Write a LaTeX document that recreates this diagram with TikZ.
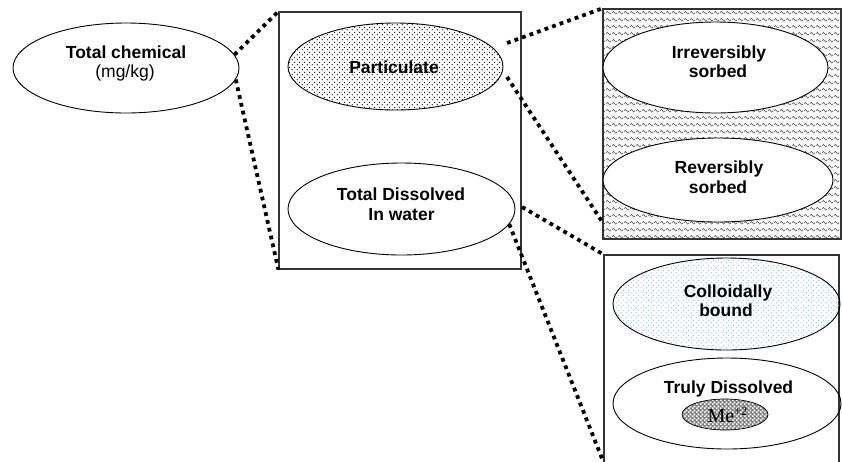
\documentclass[tikz,border=0pt]{standalone}
\usepackage{fontspec}
\setmainfont{Liberation Sans}
\newfontfamily\timesfont{Liberation Serif}
\usetikzlibrary{shapes.geometric,patterns.meta}

\definecolor{cblue}{RGB}{140,190,240}

\tikzdeclarepattern{
  name=pdots, type=uncolored,
  bounding box={(0pt,0pt) and (5.4pt,5.4pt)},
  tile size={(5.4pt,5.4pt)},
  code={\fill (1.35pt,1.35pt) circle (0.65pt); \fill (4.05pt,4.05pt) circle (0.65pt);}
}
\tikzdeclarepattern{
  name=cdots, type=uncolored,
  bounding box={(0pt,0pt) and (5.4pt,5.4pt)},
  tile size={(5.4pt,5.4pt)},
  code={\fill (1.35pt,1.35pt) circle (0.65pt); \fill (4.05pt,4.05pt) circle (0.65pt);}
}
\tikzdeclarepattern{
  name=zz, type=uncolored,
  bounding box={(0pt,0pt) and (6pt,7.2pt)},
  tile size={(6pt,7.2pt)},
  code={\draw[line width=0.7pt] (0pt,2.5pt) -- (1.5pt,4pt) -- (4.5pt,1pt) -- (6pt,2.5pt);}
}
\tikzdeclarepattern{
  name=checks, type=uncolored,
  bounding box={(0pt,0pt) and (3.6pt,3.6pt)},
  tile size={(3.6pt,3.6pt)},
  code={\fill (0pt,0pt) rectangle (1.8pt,1.8pt); \fill (1.8pt,1.8pt) rectangle (3.6pt,3.6pt);}
}

\begin{document}
\begin{tikzpicture}[x=1pt,y=-1pt,
  box/.style={draw=black!80, line width=1.2pt, rectangle, inner sep=0pt},
  oval/.style={draw, ellipse, line width=0.9pt, inner sep=0pt},
  lbl/.style={inner sep=0pt, anchor=base, font=\fontsize{17.5}{20}\selectfont\bfseries},
  lblr/.style={inner sep=0pt, anchor=base, font=\fontsize{17.5}{20}\selectfont},
  dotline/.style={line width=3.8pt, dash pattern=on 3.8pt off 4.2pt},
]
\useasboundingbox (0,0) rectangle (842,461);
\clip (0,0) rectangle (842,461);

% boxes
\node[box, minimum width=242pt, minimum height=257pt] (mid) at (400,140.5) {};
\node[box, minimum width=238pt, minimum height=230pt, pattern=zz, pattern color=black!65] (rt) at (722,124) {};
\node[box, minimum width=235pt, minimum height=230pt] (br) at (721.5,370) {};

% ellipses
\node[oval, fill=white, minimum width=226pt, minimum height=90pt] (tc) at (126,68) {};
\node[oval, pattern=pdots, minimum width=215pt, minimum height=87pt] (p) at (395.5,66.5) {};
\node[oval, fill=white, minimum width=227pt, minimum height=92pt] (td) at (401.5,209) {};
\node[oval, fill=white, minimum width=225pt, minimum height=91pt] (irr) at (715.5,67.5) {};
\node[oval, fill=white, minimum width=230pt, minimum height=84pt] (rev) at (718,180) {};
\node[oval, pattern=cdots, pattern color=cblue, minimum width=227pt, minimum height=92pt] (cb) at (726.5,304) {};
\node[oval, minimum width=228pt, minimum height=91pt] (trd) at (727,403.5) {};
\node[oval, line width=0.7pt, preaction={fill=black!50}, pattern=checks, pattern color=white, minimum width=86pt, minimum height=31pt] (me) at (725,414.5) {};

% connector end points
\coordinate (a1) at (507,43);
\coordinate (a2) at (507,77);
\coordinate (b1) at (522,207);
\coordinate (b2) at (603,223);
\coordinate (b3) at (603,461);

% connectors
\draw[dotline] (tc.7) -- (mid.north west);
\draw[dotline] (tc.-6) -- (mid.south west);
\draw[dotline] (a1) -- (rt.north west);
\draw[dotline] (a2) -- (b2);
\draw[dotline] (b1) -- (br.north west);
\draw[dotline] (td.-8) -- (b3);

% texts
\node[lbl] (tct1) at (126,58) {Total chemical};
\node[lblr] (tct2) at (125,77) {(mg/kg)};
\node[lbl] (pt) at (394,73) {Particulate};
\node[lbl] (tdt1) at (401,200) {Total Dissolved};
\node[lbl] (tdt2) at (401.5,220) {In water};
\node[lbl] (irt1) at (719,58) {Irreversibly};
\node[lbl] (irt2) at (718,77) {sorbed};
\node[lbl] (rvt1) at (719,173) {Reversibly};
\node[lbl] (rvt2) at (718,193) {sorbed};
\node[lbl] (cbt1) at (728,297) {Colloidally};
\node[lbl] (cbt2) at (726,316) {bound};
\node[lbl] (trt) at (728.5,393) {Truly Dissolved};
\node[inner sep=0pt, anchor=base] (met) at (727.5,422) {\timesfont\fontsize{20}{20}\selectfont Me\raisebox{6.5pt}{\fontsize{12.5}{12.5}\selectfont +2}};
\end{tikzpicture}
\end{document}
